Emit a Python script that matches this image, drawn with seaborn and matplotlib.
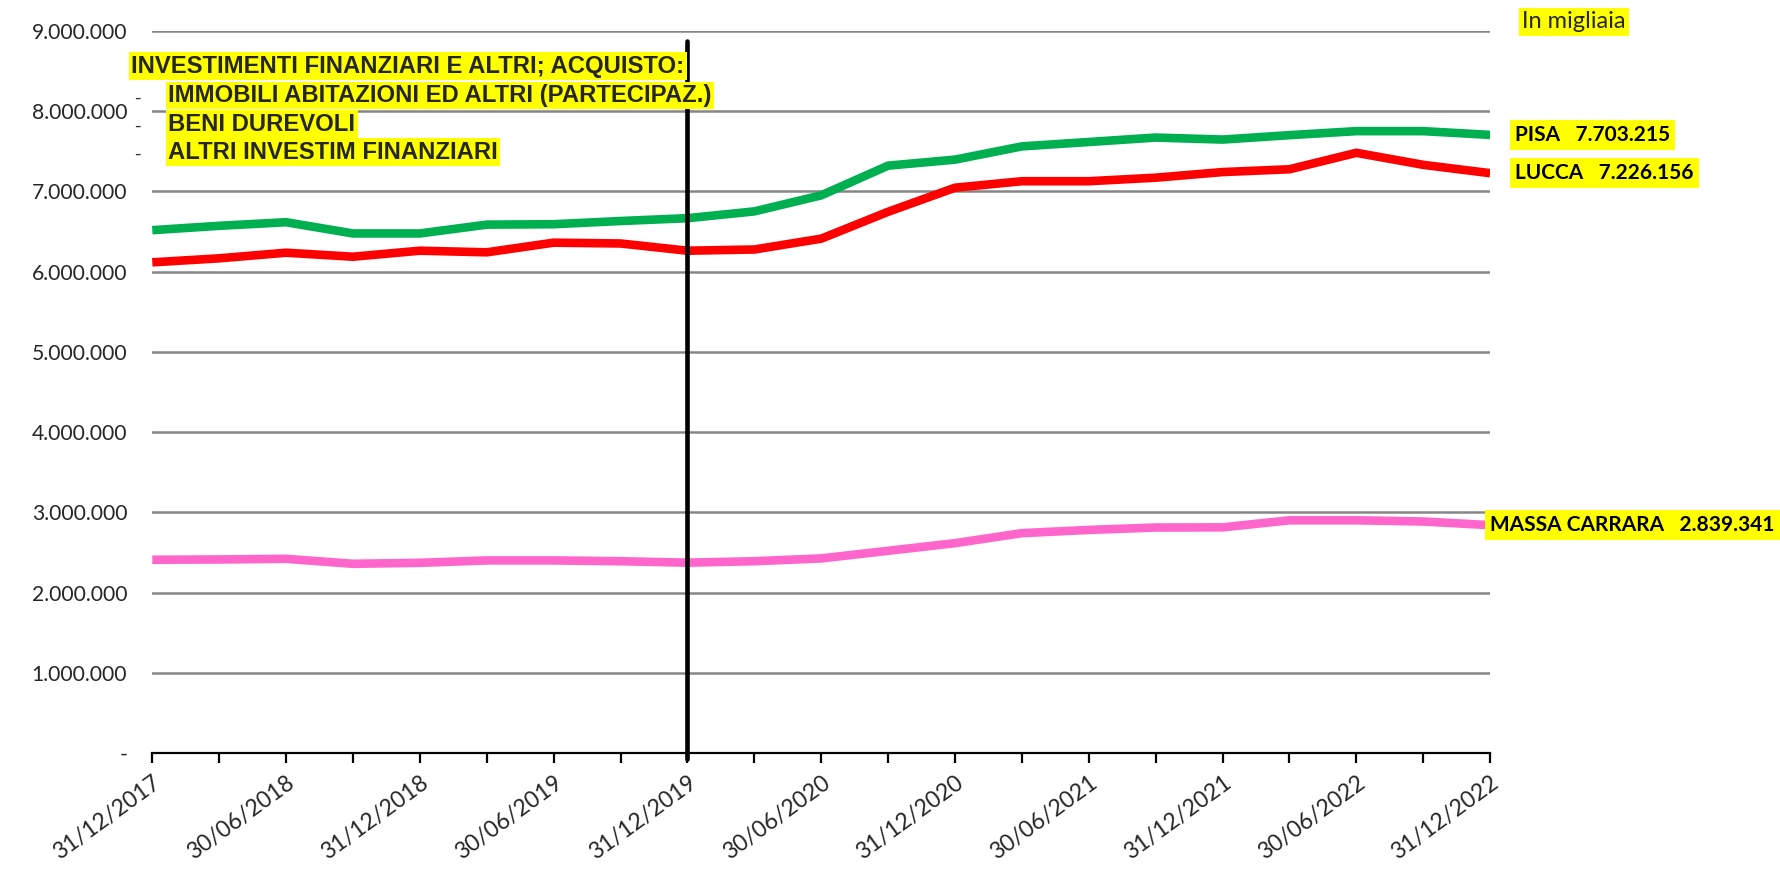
import matplotlib
matplotlib.use("Agg")
import matplotlib.pyplot as plt
from matplotlib.ticker import FuncFormatter, FixedLocator
import seaborn as sns
import pandas as pd

dates = ["31/12/2017", "31/03/2018", "30/06/2018", "30/09/2018", "31/12/2018",
         "31/03/2019", "30/06/2019", "30/09/2019", "31/12/2019", "31/03/2020",
         "30/06/2020", "30/09/2020", "31/12/2020", "31/03/2021", "30/06/2021",
         "30/09/2021", "31/12/2021", "31/03/2022", "30/06/2022", "30/09/2022",
         "31/12/2022"]

pisa = [6516000, 6570000, 6615000, 6475000, 6475000, 6585000, 6590000, 6630000,
        6665000, 6750000, 6950000, 7320000, 7395000, 7560000, 7615000, 7670000,
        7645000, 7700000, 7750000, 7750000, 7703215]
lucca = [6115000, 6165000, 6235000, 6185000, 6260000, 6240000, 6360000, 6350000,
         6260000, 6275000, 6410000, 6745000, 7045000, 7126000, 7126000, 7170000,
         7240000, 7275000, 7480000, 7330000, 7226156]
massa = [2408000, 2412000, 2420000, 2358000, 2370000, 2400000, 2400000, 2390000,
         2372000, 2390000, 2425000, 2520000, 2615000, 2740000, 2780000, 2810000,
         2812000, 2900000, 2900000, 2885000, 2839341]

series_names = ["PISA", "LUCCA", "MASSA CARRARA"]
series_values = [pisa, lucca, massa]
colors = {"PISA": "#00B050", "LUCCA": "#FF0000", "MASSA CARRARA": "#FF66CC"}
event_date = "31/12/2019"

title_line = "INVESTIMENTI FINANZIARI E ALTRI; ACQUISTO:"
bullet_lines = ["IMMOBILI ABITAZIONI ED ALTRI (PARTECIPAZ.)",
                "BENI DUREVOLI",
                "ALTRI INVESTIM FINANZIARI"]
unit_note = "In migliaia"

def it_fmt(v):
    v = int(round(v))
    if v == 0:
        return "-"
    return f"{v:,}".replace(",", ".")

rows = []
for name, vals in zip(series_names, series_values):
    for i, v in enumerate(vals):
        rows.append({"idx": i, "value": v, "serie": name})
df = pd.DataFrame(rows)

sns.set_style("white")
calib = ["Lato", "Liberation Sans", "DejaVu Sans"]
arial = ["Liberation Sans", "DejaVu Sans"]
plt.rcParams["font.family"] = calib

fig = plt.figure(figsize=(17.81, 8.69), dpi=100)
ax = fig.add_axes([0.0855, 0.1335, 0.7512, 0.831])

sns.lineplot(data=df, x="idx", y="value", hue="serie", palette=colors,
             linewidth=6.2, ax=ax, legend=False, sort=False)
for ln in ax.lines:
    ln.set_solid_capstyle("butt")
    ln.set_solid_joinstyle("miter")

ax.set_xlim(0, len(dates) - 1)
ax.set_ylim(0, 9000000)
ax.set_yticks(range(0, 9000001, 1000000))
ax.yaxis.set_major_formatter(FuncFormatter(lambda v, p: it_fmt(v)))
ax.grid(axis="y", color="#868686", linewidth=1.8)
ax.grid(axis="x", visible=False)
ax.set_axisbelow(True)
for s in ["left", "right", "top"]:
    ax.spines[s].set_visible(False)
ax.spines["bottom"].set_color("black")
ax.spines["bottom"].set_linewidth(1.6)
ax.set_xlabel("")
ax.set_ylabel("")

ax.xaxis.set_major_locator(FixedLocator(range(len(dates))))
ax.set_xticklabels([d if i % 2 == 0 else "" for i, d in enumerate(dates)])
ax.tick_params(axis="x", direction="out", length=7, width=1.6, color="black",
               labelsize=16.5, bottom=True, pad=7)
ax.tick_params(axis="y", length=0, labelsize=15.2, pad=18)
for lbl in ax.get_xticklabels():
    lbl.set_rotation(36)
    lbl.set_rotation_mode("anchor")
    lbl.set_ha("right")
    lbl.set_va("top")

# vertical event line
ev = dates.index(event_date)
ax.plot([ev, ev], [-80000, 8870000], color="black", linewidth=3.3,
        clip_on=False, zorder=3)

# end labels
hl = dict(boxstyle="square,pad=0.25", fc="#FFFF00", ec="none")
offsets = {"PISA": 18, "LUCCA": 18, "MASSA CARRARA": 0}
for name, vals in zip(series_names, series_values):
    ax.annotate(f"{name}   {it_fmt(vals[-1])}", xy=(len(vals) - 1, vals[-1]),
                xytext=(offsets[name], 0), textcoords="offset points",
                ha="left", va="center", fontsize=15, fontweight="bold",
                color="black", bbox=hl, annotation_clip=False, zorder=5)

fig.text(0.8546, 0.975, unit_note, fontsize=17, ha="left", va="center",
         bbox=dict(boxstyle="square,pad=0.15", fc="#FFFF00", ec="none"))

tb = dict(boxstyle="square,pad=0.1", fc="#FFFF00", ec="none")
fig.text(0.0738, 0.924, title_line, fontsize=17.2, fontweight="bold", family=arial,
         ha="left", va="center", bbox=tb, zorder=10)
ys = [0.890, 0.857, 0.825]
for y, t in zip(ys, bullet_lines):
    fig.text(0.0755, y - 0.004, "-", fontsize=14, family=arial, ha="left",
             va="center", zorder=10)
    fig.text(0.0944, y, t, fontsize=17.2, fontweight="bold", family=arial,
             ha="left", va="center", bbox=tb, zorder=10)

fig.savefig("out.png", dpi=100, facecolor="white")
